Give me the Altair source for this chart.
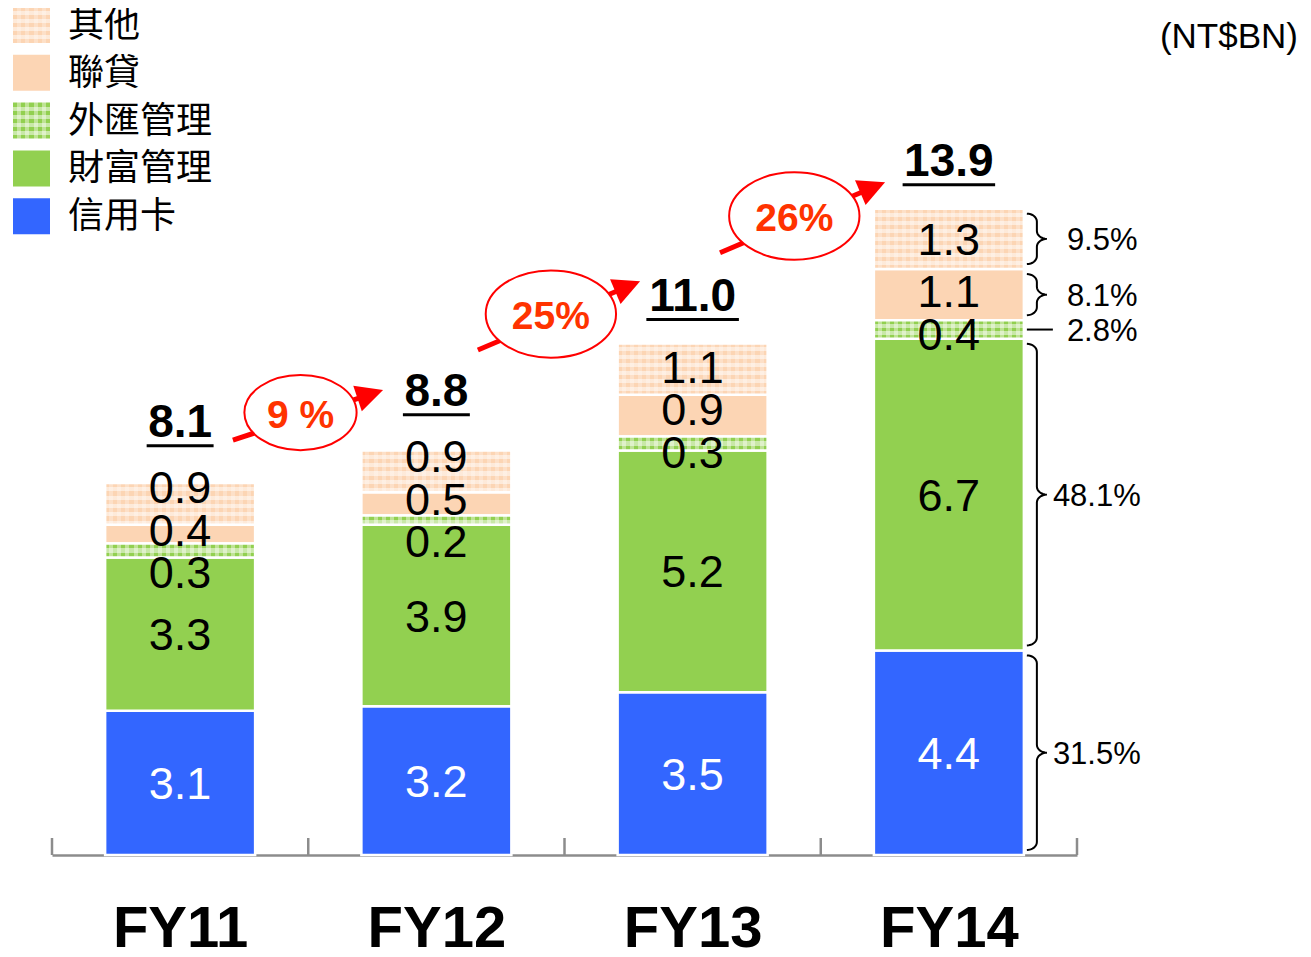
import math
import altair as alt
import pandas as pd

# ---------------- data ----------------
years = ["FY11", "FY12", "FY13", "FY14"]
series = ["信用卡", "財富管理", "外匯管理", "聯貸", "其他"]
card = [3.1, 3.2, 3.5, 4.4]
wealth = [3.3, 3.9, 5.2, 6.7]
fx = [0.3, 0.2, 0.3, 0.4]
loan = [0.4, 0.5, 0.9, 1.1]
other = [0.9, 0.9, 1.1, 1.3]
totals = ["8.1", "8.8", "11.0", "13.9"]
growth = ["9 %", "25%", "26%"]
# growth arrows: x in category-index units, y in NT$BN
arrow_x0 = [0.206, 1.162, 2.107]
arrow_y0 = [8.92, 10.86, 12.95]
arrow_x1 = [0.792, 1.795, 2.751]
arrow_y1 = [10.0, 12.34, 14.47]
share_last = ["31.5%", "48.1%", "2.8%", "8.1%", "9.5%"]
unit_text = "(NT$BN)"

# ---------------- layout / style ----------------
PLOT_W, PLOT_H = 1025, 847
PXX = PLOT_W / len(years)       # px per category unit
PXU = 46.5                      # px per NT$BN
YMAX = PLOT_H / PXU
BW = 150 / PXX                  # bar width in category units
FONT = "Liberation Sans"
CJK = "Noto Sans CJK TC"
BLUE, GREEN, PEACH = "#3366ff", "#92d050", "#fcd5b4"
GREEN_L, PEACH_L = "#bfe395", "#fde0c8"
RED, RED_TXT = "#ff0000", "#ff3300"
GRAY = "#8c8c8c"
flat_colors = {"信用卡": BLUE, "財富管理": GREEN, "聯貸": PEACH}
pattern_colors = {"外匯管理": (GREEN, GREEN_L), "其他": (PEACH, PEACH_L)}
# Arial-like advance widths (em) for sizing underlines / bubbles
CW = {".": 0.278, " ": 0.278, "%": 0.889}

xs = alt.Scale(domain=[-0.5, len(years) - 0.5], nice=False, zero=False)
ys = alt.Scale(domain=[0, YMAX], nice=False, zero=False)
XAXIS = alt.Axis(values=list(range(len(years))),
                 labelExpr="[" + ",".join(f"'{y}'" for y in years) + "][datum.value]",
                 ticks=False, grid=False, domainColor=GRAY, domainWidth=2.5,
                 labelFont=FONT, labelFontSize=58, labelFontWeight="bold",
                 labelColor="black", labelPadding=74, labelBaseline="middle",
                 labelFlush=False, labelOverlap=False, title=None)


def X(f):
    return alt.X(f, type="quantitative", scale=xs, axis=XAXIS)


def Y(f):
    return alt.Y(f, type="quantitative", scale=ys, axis=None)


def text_w(s, fs):
    return sum(CW.get(ch, 0.556) for ch in s) * fs


def stripes(ca, cb, n, along_x=True):
    stops = []
    for k in range(n):
        c = ca if k % 2 == 0 else cb
        stops.append(alt.GradientStop(offset=k / n, color=c))
        stops.append(alt.GradientStop(offset=(k + 1) / n, color=c))
    if along_x:
        return alt.LinearGradient(gradient="linear", stops=stops, x1=0, x2=1, y1=0, y2=0)
    return alt.LinearGradient(gradient="linear", stops=stops, x1=0, x2=0, y1=0, y2=1)


def spread(c, gap):
    c = list(c)
    for _ in range(400):
        moved = False
        for k in range(len(c) - 1):
            d = c[k + 1] - c[k]
            if d < gap - 1e-9:
                s = (gap - d) / 2
                c[k] -= s
                c[k + 1] += s
                moved = True
        if not moved:
            break
    return c


# ---------------- derived tables ----------------
seg_rows, lab_rows, tot_rows = [], [], []
for i, fy in enumerate(years):
    base = 0.0
    mids = []
    segs = []
    for s, vals in zip(series, [card, wealth, fx, loan, other]):
        v = vals[i]
        segs.append(dict(fy=fy, series=s, value=v, y0=base, y1=base + v,
                         xl=i - BW / 2, xr=i + BW / 2, xi=i))
        mids.append(base + v / 2)
        base += v
    seg_rows += segs
    ly = spread(mids, 0.92)
    for sg, yy in zip(segs, ly):
        lab_rows.append(dict(xi=i, ly=yy, t=f"{sg['value']:.1f}",
                             tc="white" if sg["series"] == "信用卡" else "black"))
    anchor = max(base, ly[-1] + 17 / PXU)
    ul = anchor + 24 / PXU
    half = (text_w(totals[i], 46) + 3) / 2 / PXX
    tot_rows.append(dict(xi=i, uy=ul, t=totals[i], ua=i - half, ub=i + half))

seg_df = pd.DataFrame(seg_rows)
lab_df = pd.DataFrame(lab_rows)
tot_df = pd.DataFrame(tot_rows)

layers = []

# flat segments
flat_df = seg_df[seg_df.series.isin(list(flat_colors))]
layers.append(
    alt.Chart(flat_df).mark_rect(stroke="white", strokeWidth=2.5).encode(
        x=X("xl"), x2="xr", y=Y("y0"), y2="y1",
        color=alt.Color("series:N", scale=alt.Scale(domain=list(flat_colors),
                                                    range=list(flat_colors.values())),
                        legend=None))
)

# patterned segments
for r in seg_rows:
    if r["series"] not in pattern_colors:
        continue
    ca, cb = pattern_colors[r["series"]]
    one = pd.DataFrame([r])
    hpx = (r["y1"] - r["y0"]) * PXU
    nrow = max(2, int(round(hpx / 4)))
    layers.append(alt.Chart(one).mark_rect(fill=stripes(ca, cb, 37, True), stroke="white",
                                           strokeWidth=2.5).encode(
        x=X("xl"), x2="xr", y=Y("y0"), y2="y1"))
    layers.append(alt.Chart(one).mark_rect(
        fill=stripes("rgba(255,255,255,0)", "rgba(255,255,255,0.5)", nrow, False)).encode(
        x=X("xl"), x2="xr", y=Y("y0"), y2="y1"))

# axis boundary ticks (pointing up)
bnd = pd.DataFrame({"b": [k - 0.5 for k in range(len(years) + 1)], "z": 0.0,
                    "t": 17 / PXU})
layers.append(alt.Chart(bnd).mark_rule(color=GRAY, strokeWidth=2.5).encode(
    x=X("b"), y=Y("z"), y2="t"))

# in-bar labels
layers.append(alt.Chart(lab_df).mark_text(font=FONT, fontSize=45, baseline="middle",
                                          dy=2).encode(
    x=X("xi"), y=Y("ly"), text="t:N", color=alt.Color("tc:N", scale=None)))

# totals with underline
layers.append(alt.Chart(tot_df).mark_text(font=FONT, fontSize=46, fontWeight="bold",
                                          baseline="alphabetic", dy=-9).encode(
    x=X("xi"), y=Y("uy"), text="t:N"))
layers.append(alt.Chart(tot_df).mark_rule(color="black", strokeWidth=3).encode(
    x=X("ua"), x2="ub", y=Y("uy")))

# growth arrows
arr_rows = []
for k in range(len(growth)):
    dxp = (arrow_x1[k] - arrow_x0[k]) * PXX
    dyp = (arrow_y1[k] - arrow_y0[k]) * PXU
    L = math.hypot(dxp, dyp)
    ux, uy = dxp / L, dyp / L
    theta = math.degrees(math.atan2(dyp, dxp))
    ew = 1.67 * text_w(growth[k], 39)
    arr_rows.append(dict(
        x0=arrow_x0[k], y0=arrow_y0[k],
        xe=arrow_x1[k] - 16 * ux / PXX, ye=arrow_y1[k] - 16 * uy / PXU,
        xt=arrow_x1[k], yt=arrow_y1[k], ang=(360 - theta) % 360,
        ex=arrow_x0[k] + 0.45 * (arrow_x1[k] - arrow_x0[k]),
        ey=arrow_y0[k] + 0.45 * (arrow_y1[k] - arrow_y0[k]) + 5 / PXU,
        es=ew ** 2, g=growth[k]))
arr_df = pd.DataFrame(arr_rows)
layers.append(alt.Chart(arr_df).mark_rule(color=RED, strokeWidth=5).encode(
    x=X("x0"), y=Y("y0"), x2="xe", y2="ye"))
ELLIPSE = "M -1 0 A 1 0.67 0 1 1 1 0 A 1 0.67 0 1 1 -1 0 Z"
layers.append(alt.Chart(arr_df).mark_point(shape=ELLIPSE, filled=True,
                                           fill="white", stroke=RED, strokeWidth=2,
                                           opacity=1, fillOpacity=1).encode(
    x=X("ex"), y=Y("ey"), size=alt.Size("es:Q", scale=None)))
HEAD = "M 0 0 L -1 -0.5 L -1 0.5 Z"
layers.append(alt.Chart(arr_df).mark_point(shape=HEAD, size=2900, filled=True,
                                           color=RED, opacity=1).encode(
    x=X("xt"), y=Y("yt"), angle=alt.Angle("ang:Q", scale=None)))
layers.append(alt.Chart(arr_df).mark_text(font=FONT, fontSize=39, fontWeight="bold",
                                          color=RED_TXT, baseline="middle", dy=3).encode(
    x=X("ex"), y=Y("ey"), text="g:N"))

# braces + shares for the last bar
last = [r for r in seg_rows if r["xi"] == len(years) - 1]
right_px = (last[0]["xr"] + 0.5) * PXX
x0p = right_px + 3
x1p = x0p + 10
tipp = x1p + 10
br_rows, pct_rows = [], []


def arc(cx, cy, rx, ry, a0, a1, n=8):
    out = []
    for j in range(n + 1):
        a = math.radians(a0 + (a1 - a0) * j / n)
        out.append((cx + rx * math.cos(a), cy + ry * math.sin(a)))
    return out


for k, r in enumerate(last):
    top = PLOT_H - r["y1"] * PXU + 5
    bot = PLOT_H - r["y0"] * PXU - 5
    mid = (top + bot) / 2
    if bot - top < 25:
        pts = [(x0p, mid), (x0p + 26, mid)]
        tx = x0p + 40
    else:
        ry = min(8, (bot - top) / 4)
        pts = (arc(x0p, top + ry, x1p - x0p, ry, -90, 0)
               + arc(tipp, mid - ry, tipp - x1p, ry, 180, 90)
               + arc(tipp, mid + ry, tipp - x1p, ry, 270, 180)
               + arc(x0p, bot - ry, x1p - x0p, ry, 0, 90))
        tx = tipp + 6 if bot - top > 80 else x0p + 40
    for j, (px, py) in enumerate(pts):
        br_rows.append(dict(bid=k, o=j, bx=px / PXX - 0.5, by=(PLOT_H - py) / PXU))
    pct_rows.append(dict(px=tx / PXX - 0.5, py=(PLOT_H - mid) / PXU, t=share_last[k]))

layers.append(alt.Chart(pd.DataFrame(br_rows)).mark_line(color="black", strokeWidth=2).encode(
    x=X("bx"), y=Y("by"), detail="bid:N", order="o:Q"))
layers.append(alt.Chart(pd.DataFrame(pct_rows)).mark_text(font=FONT, fontSize=31,
                                                          align="left", baseline="middle",
                                                          dy=2).encode(
    x=X("px"), y=Y("py"), text="t:N"))

# legend (top-left)
leg = list(reversed(series))
leg_rows = []
for j, s in enumerate(leg):
    cy = 17 + 47.8 * j
    leg_rows.append(dict(s=s, ya=(PLOT_H - (cy - 18)) / PXU, yb=(PLOT_H - (cy + 18)) / PXU,
                         yc=(PLOT_H - cy) / PXU))
leg_df = pd.DataFrame(leg_rows)
flat_leg = leg_df[leg_df.s.isin(list(flat_colors))]
layers.append(alt.Chart(flat_leg).mark_rect().encode(
    x=alt.value(-39), x2=alt.value(-2), y=Y("ya"), y2="yb",
    color=alt.Color("s:N", scale=alt.Scale(domain=list(flat_colors),
                                           range=list(flat_colors.values())), legend=None)))
for s, (ca, cb) in pattern_colors.items():
    one = leg_df[leg_df.s == s]
    layers.append(alt.Chart(one).mark_rect(fill=stripes(ca, cb, 9, True)).encode(
        x=alt.value(-39), x2=alt.value(-2), y=Y("ya"), y2="yb"))
    layers.append(alt.Chart(one).mark_rect(
        fill=stripes("rgba(255,255,255,0)", "rgba(255,255,255,0.5)", 9, False)).encode(
        x=alt.value(-39), x2=alt.value(-2), y=Y("ya"), y2="yb"))
layers.append(alt.Chart(leg_df).mark_text(font=CJK, fontSize=36, align="left",
                                          baseline="middle", dy=1).encode(
    x=alt.value(16), y=Y("yc"), text="s:N"))

# unit label
layers.append(alt.Chart(pd.DataFrame({"t": [unit_text]})).mark_text(
    font=FONT, fontSize=35, align="right", baseline="middle").encode(
    x=alt.value(1246), y=alt.value(29), text="t:N"))

chart = alt.layer(*layers).properties(
    width=PLOT_W, height=PLOT_H,
    padding={"left": 44, "top": 0, "right": 226, "bottom": 94},
    autosize=alt.AutoSizeParams(type="none"),
).configure_view(stroke=None)

chart.save("out.html", embed_options={"renderer": "svg", "actions": False})
